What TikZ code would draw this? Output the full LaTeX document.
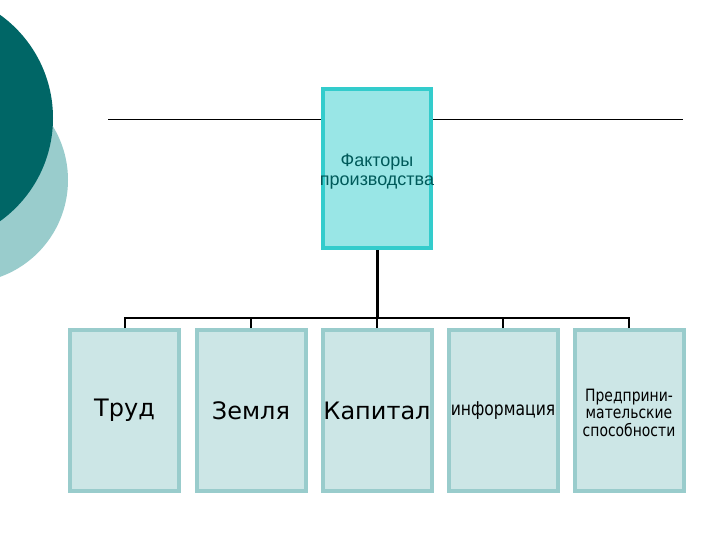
\documentclass[tikz,border=0pt]{standalone}
\usepackage{fontspec}
\setmainfont{DejaVu Sans}
\newfontfamily\narrowfont[FakeStretch=0.82]{DejaVu Sans}
\newfontfamily\arialfont{Liberation Sans}
\definecolor{darkteal}{RGB}{0,102,102}
\definecolor{lightteal}{RGB}{153,204,204}
\definecolor{topborder}{RGB}{51,204,204}
\definecolor{topfill}{RGB}{153,230,230}
\definecolor{boxborder}{RGB}{153,204,204}
\definecolor{boxfill}{RGB}{204,230,230}
\definecolor{toptext}{RGB}{0,90,90}
\begin{document}
\begin{tikzpicture}[x=1pt,y=-1pt,
  topbox/.style={draw=topborder,fill=topfill,line width=4pt,minimum width=108pt,minimum height=159pt,inner sep=0pt},
  toptxt/.style={inner sep=0pt,align=center,text=toptext,font=\arialfont\fontsize{18}{19}\selectfont},
  factbox/.style={draw=boxborder,fill=boxfill,line width=4pt,minimum width=109pt,minimum height=161pt,inner sep=0pt,align=center},
  bigtxt/.style={font=\fontsize{24}{28}\selectfont},
  smalltxt/.style={font=\narrowfont\fontsize{19}{22}\selectfont},
  tinytxt/.style={inner sep=0pt,align=center,font=\narrowfont\fontsize{17}{17.5}\selectfont},
  conn/.style={draw=black,line width=2pt}
]
\clip (0,0) rectangle (720,540);
\fill[white] (0,0) rectangle (720,540);
% decorative circles
\fill[lightteal] (-35,180) circle (103);
\fill[darkteal] (-74,118) circle (127);
% horizontal rule
\draw[line width=1pt] (108,120) -- (683,120);
% top box
\node[topbox] (top) at (377,168.5) {};
\node[toptxt] (toplabel) at ([yshift=-3pt]top.center) {Факторы\\производства};
% bottom boxes
\node[factbox,bigtxt] (trud) at (124.5,410.5) {Труд};
\node[factbox,bigtxt] (zem) at (251,410.5) {Земля};
\node[factbox,bigtxt] (kap) at (377,410.5) {Капитал};
\node[factbox,smalltxt] (inf) at (503,410.5) {информация};
\node[factbox] (pred) at (629,410.5) {};
\node[tinytxt] (predlabel) at ([yshift=-2pt]pred.center) {Предприни-\\мательские\\способности};
% connectors
\coordinate (bus) at (377,318);
\draw[line width=3pt] (top.south) -- (bus);
\foreach \b in {trud,zem,kap,inf,pred}{
  \draw[conn] (\b.north) |- (bus);
}
\end{tikzpicture}
\end{document}
